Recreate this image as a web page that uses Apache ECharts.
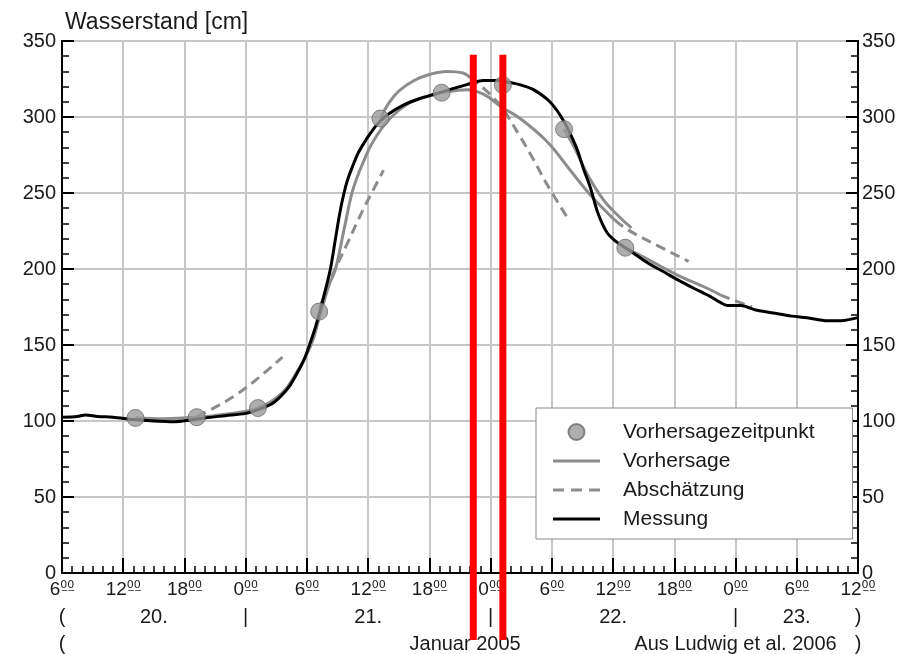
<!DOCTYPE html>
<html>
<head>
<meta charset="utf-8">
<script src="https://cdn.jsdelivr.net/npm/echarts@6/dist/echarts.min.js"></script>
<style>
  html, body { margin: 0; padding: 0; background: #fff; }
  #chart { width: 908px; height: 654px; }
</style>
</head>
<body>
<div id="chart"></div>
<script>
// hours counted from 0:00 on 20 Jan 2005
const yTicks = [0, 50, 100, 150, 200, 250, 300, 350]
const dayRow = [[6, '('], [15, '20.'], [24, '|'], [36, '21.'], [48, '|'], [60, '22.'], [72, '|'], [78, '23.'], [84, ')']]
const footRow = [[6, '('], [45.5, 'Januar 2005'], [72, 'Aus Ludwig et al. 2006'], [84, ')']]
const redLines = [46.3, 49.2]

const messung = [
  [6, 102.5], [7.5, 103], [8.3, 104], [9.5, 103], [11, 102.5], [13, 101], [15, 100], [17, 99.5],
  [18.5, 100.5], [20, 102], [22, 103.5], [24, 105], [25.4, 108], [26.5, 111], [27.4, 116], [28.3, 123],
  [29, 131], [29.7, 140], [30.3, 151], [30.8, 161], [31.3, 173], [31.8, 186], [32.3, 200], [32.8, 220],
  [33.2, 236], [33.6, 249], [34, 259], [34.5, 268], [35, 276], [35.6, 283], [36.3, 290], [37, 296],
  [38, 302], [39.5, 308], [41, 312], [42.5, 315], [44, 318],
  [45.5, 321], [47.3, 324], [48.5, 324], [49.6, 323], [51, 321], [52.2, 318], [53.8, 310], [55.1, 298],
  [56.4, 280], [57.1, 266], [57.8, 253], [58.5, 237], [59.4, 224], [60.3, 218], [61.2, 214], [62.3, 209],
  [63.4, 204], [65, 198], [66.3, 193], [68, 187], [69.5, 182], [70.5, 178], [71.2, 176], [72.5, 176],
  [74, 173], [75.7, 171], [77.5, 169], [79, 168], [81, 166], [82.3, 166], [84, 168]
]

const zeitpunkte = [
  [13.2, 102], [19.2, 102.5], [25.2, 108.5], [31.2, 172], [37.2, 299],
  [43.2, 316], [49.2, 321], [55.2, 292], [61.2, 214]
]

const vorhersageA = [
  [13.2, 102], [16, 101.5], [19.2, 102.5], [22, 104.5], [25.2, 108.5], [27.5, 118], [29, 132],
  [30.4, 150], [31.3, 170], [32.2, 190], [32.8, 200], [33.7, 228], [34.5, 252], [35.5, 270],
  [36.5, 284], [38, 298], [40, 309], [42, 314], [43.2, 316], [45.7, 318], [47.3, 315], [49.2, 306],
  [50.9, 299], [53.5, 284], [55.8, 265], [58, 247], [60.2, 232]
]
const vorhersageB = [[37.2, 299], [38, 309], [39, 317], [40.5, 324], [42, 328], [43.7, 330], [45.3, 329], [46, 326]]
const vorhersageC = [[55.2, 292], [56.2, 280], [57.5, 262], [59, 246], [60.5, 235], [61.8, 227]]
const vorhersageD = [[61.2, 214], [63.5, 206], [66.3, 196], [69, 188], [70.5, 183]]

const abschaetzung0 = [[19.2, 103], [21, 109], [23, 117], [25, 127], [27.6, 142]]
const abschaetzung1 = [[31.3, 175], [32.3, 193], [33.9, 216], [35.5, 239], [36.5, 252], [37.5, 265]]
const abschaetzungB = [[46, 326], [47.3, 319], [49, 307], [50.9, 287], [52.2, 272], [53.5, 256], [55.5, 234]]
const abschaetzungA = [[60.2, 232], [61.4, 226], [63.9, 217], [67.4, 205]]
const abschaetzungD = [[70.5, 183], [72, 179], [73.6, 175]]

const gray = '#8c8c8c'
const txt = '#1a1a1a'
const font = 'Liberation Sans, Arial, sans-serif'

// legend icons: a plain line / a dashed line inside a 47x16 box
const lineIcon = 'path://M0,0 M47,16 M0,6.5h47v3h-47z'
const dashIcon = 'path://M0,0 M47,16 M0,6.5h11v3h-11z M18,6.5h11v3h-11z M36,6.5h11v3h-11z'

const chart = echarts.init(document.getElementById('chart'))

const solid = (data) => ({
  name: 'Vorhersage', type: 'line', data, smooth: 0.4, symbol: 'none', z: 3,
  lineStyle: { color: gray, width: 3 }, itemStyle: { color: gray }
})
const dashed = (data) => ({
  name: 'Abschätzung', type: 'line', data, smooth: 0.4, symbol: 'none', z: 3,
  lineStyle: { color: gray, width: 3, type: [10, 6] }, itemStyle: { color: gray }
})
const rowAxis = (row, offset) => ({
  type: 'value', min: 6, max: 84, position: 'bottom', offset,
  axisLine: { show: false }, axisTick: { show: false }, splitLine: { show: false },
  axisLabel: {
    customValues: row.map(r => r[0]),
    formatter: v => (row.find(r => r[0] === v) || [0, ''])[1],
    color: txt, fontSize: 20, fontFamily: font, margin: 8
  }
})

chart.setOption({
  animation: false,
  title: {
    text: 'Wasserstand [cm]', left: 60, top: 6,
    textStyle: { color: txt, fontSize: 23, fontWeight: 'normal', fontFamily: font }
  },
  grid: { left: 62, right: 50, top: 41, bottom: 81, show: true, borderColor: '#000', borderWidth: 2 },
  legend: {
    data: [
      { name: 'Vorhersagezeitpunkt' },
      { name: 'Vorhersage', icon: lineIcon, itemStyle: { borderWidth: 0 } },
      { name: 'Abschätzung', icon: dashIcon, itemStyle: { borderWidth: 0 } },
      { name: 'Messung', icon: lineIcon, itemStyle: { borderWidth: 0 } }
    ],
    orient: 'vertical', left: 536, top: 408,
    padding: [13, 38, 9, 17], itemGap: 7, itemWidth: 47, itemHeight: 16,
    backgroundColor: '#fff', borderColor: '#888', borderWidth: 1,
    textStyle: { color: txt, fontSize: 21, fontFamily: font, lineHeight: 22, padding: [0, 0, 0, 18] }
  },
  xAxis: [
    {
      type: 'value', min: 6, max: 84, interval: 6,
      axisLine: { lineStyle: { color: '#000', width: 2 } },
      axisTick: { inside: true, length: 15, lineStyle: { color: '#000', width: 2 } },
      minorTick: { show: true, splitNumber: 6, length: 7, lineStyle: { color: '#000', width: 1.5 } },
      splitLine: { show: true, lineStyle: { color: '#c6c6c6', width: 2 } },
      axisLabel: {
        margin: 7, color: txt, fontFamily: font,
        formatter: v => '{h|' + (v % 24) + '}{m|0\u03320\u0332}',
        rich: {
          h: { fontSize: 19, fontFamily: font, color: txt },
          m: { fontSize: 11, fontFamily: 'DejaVu Sans', color: txt, padding: [0, 0, 9, 0] }
        }
      }
    },
    rowAxis(dayRow, 26),
    rowAxis(footRow, 53)
  ],
  yAxis: [
    {
      type: 'value', min: 0, max: 350, interval: 50,
      axisLine: { show: true, lineStyle: { color: '#000', width: 2 } },
      axisTick: { show: true, inside: true, length: 12, lineStyle: { color: '#000', width: 2 } },
      minorTick: { show: true, splitNumber: 5, length: 7, lineStyle: { color: '#000', width: 1.5 } },
      splitLine: { show: true, lineStyle: { color: '#c6c6c6', width: 2 } },
      axisLabel: { color: txt, fontSize: 20, fontFamily: font, margin: 6, customValues: yTicks }
    },
    {
      type: 'value', min: 0, max: 350, interval: 50, position: 'right',
      axisLine: { show: true, lineStyle: { color: '#000', width: 2 } },
      axisTick: { show: true, inside: true, length: 12, lineStyle: { color: '#000', width: 2 } },
      minorTick: { show: true, splitNumber: 5, length: 7, lineStyle: { color: '#000', width: 1.5 } },
      splitLine: { show: false },
      axisLabel: { color: txt, fontSize: 20, fontFamily: font, margin: 4, customValues: yTicks }
    }
  ],
  series: [
    {
      name: 'Vorhersagezeitpunkt', type: 'scatter', data: zeitpunkte, symbolSize: 17, z: 5,
      itemStyle: { color: '#9a9a9a', borderColor: '#6a6a6a', borderWidth: 1 }
    },
    solid(vorhersageA), solid(vorhersageB), solid(vorhersageC), solid(vorhersageD),
    dashed(abschaetzung0), dashed(abschaetzung1), dashed(abschaetzungB), dashed(abschaetzungA), dashed(abschaetzungD),
    {
      name: 'Messung', type: 'line', data: messung, smooth: 0.3, symbol: 'none', z: 4,
      lineStyle: { color: '#000', width: 3 }, itemStyle: { color: '#000' }
    }
  ]
})

// red annotation bars, placed through the axes
const yBottom = chart.convertToPixel({ yAxisIndex: 0 }, 0)
const yTop = chart.convertToPixel({ yAxisIndex: 0 }, 341)
chart.setOption({
  graphic: redLines.map(h => ({
    type: 'rect', z: 100,
    shape: { x: chart.convertToPixel({ xAxisIndex: 0 }, h) - 3.5, y: yTop, width: 7, height: yBottom + 67 - yTop },
    style: { fill: '#ff0000' }
  }))
})
</script>
</body>
</html>
